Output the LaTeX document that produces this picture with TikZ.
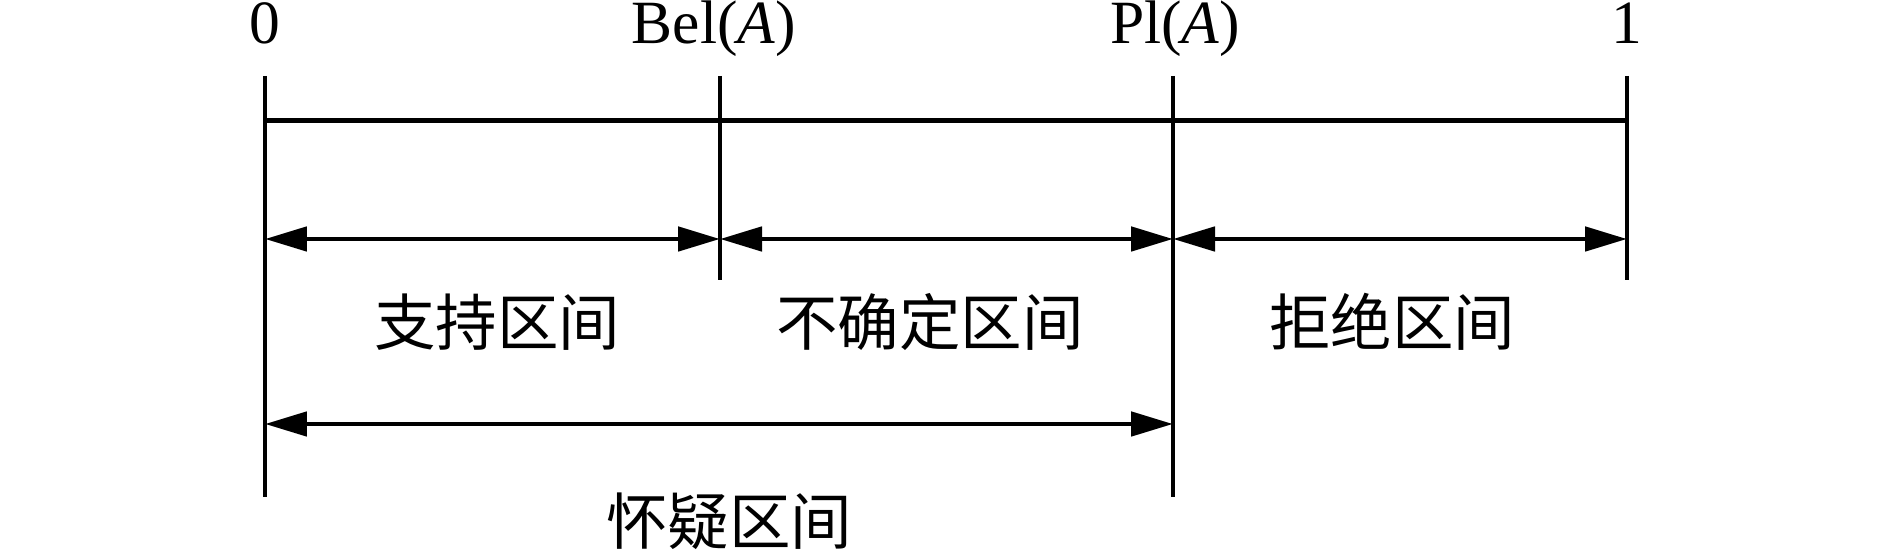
\documentclass[tikz,border=0pt]{standalone}
\usepackage{fontspec}
\setmainfont{Liberation Serif}
\newfontfamily\cjk{Noto Sans CJK SC}
\usetikzlibrary{arrows.meta}
\begin{document}
\begin{tikzpicture}[x=0.02cm,y=-0.02cm,
  tick/.style={line width=2.8pt},
  dim/.style={line width=2.8pt,{Triangle[length=0.84cm,width=0.48cm]}-{Triangle[length=0.84cm,width=0.48cm]}},
  lbl/.style={font=\fontsize{35}{40}\selectfont, inner sep=0pt, anchor=base},
  zh/.style={font=\cjk\fontsize{35}{38}\selectfont, inner sep=0pt}]
\useasboundingbox (0,0) rectangle (1890,553);
% tick tops
\coordinate (t0) at (265,76);
\coordinate (tb) at (720,76);
\coordinate (tp) at (1173,76);
\coordinate (t1) at (1627,76);
% tick bottoms
\coordinate (b0) at (265,497);
\coordinate (bb) at (720,280);
\coordinate (bp) at (1173,497);
\coordinate (b1) at (1627,280);
\draw[tick] (t0) -- (b0);
\draw[tick] (tb) -- (bb);
\draw[tick] (tp) -- (bp);
\draw[tick] (t1) -- (b1);
% main line
\coordinate (h0) at (265,120.5);
\coordinate (h1) at (1627,120.5);
\draw[tick] (h0) -- (h1);
% arrows row 1
\coordinate (a0) at (265,239);
\coordinate (ab) at (720,239);
\coordinate (ap) at (1173,239);
\coordinate (a1) at (1627,239);
\draw[dim] (a0) -- (ab);
\draw[dim] (ab) -- (ap);
\draw[dim] (ap) -- (a1);
% arrow row 2
\coordinate (c0) at (265,424);
\coordinate (cp) at (1173,424);
\draw[dim] (c0) -- (cp);
% top labels
\node[lbl] (l0) at (265,44) {0};
\node[lbl] (lb) at (714,44) {Bel(\textit{A})};
\node[lbl] (lp) at (1175,44) {Pl(\textit{A})};
\node[lbl] (l1) at (1627,44) {1};
% interval labels
\node[zh] (s1) at (497,322) {支持区间};
\node[zh] (s2) at (930,322) {不确定区间};
\node[zh] (s3) at (1392,322) {拒绝区间};
\node[zh] (s4) at (729,521) {怀疑区间};
\end{tikzpicture}
\end{document}
